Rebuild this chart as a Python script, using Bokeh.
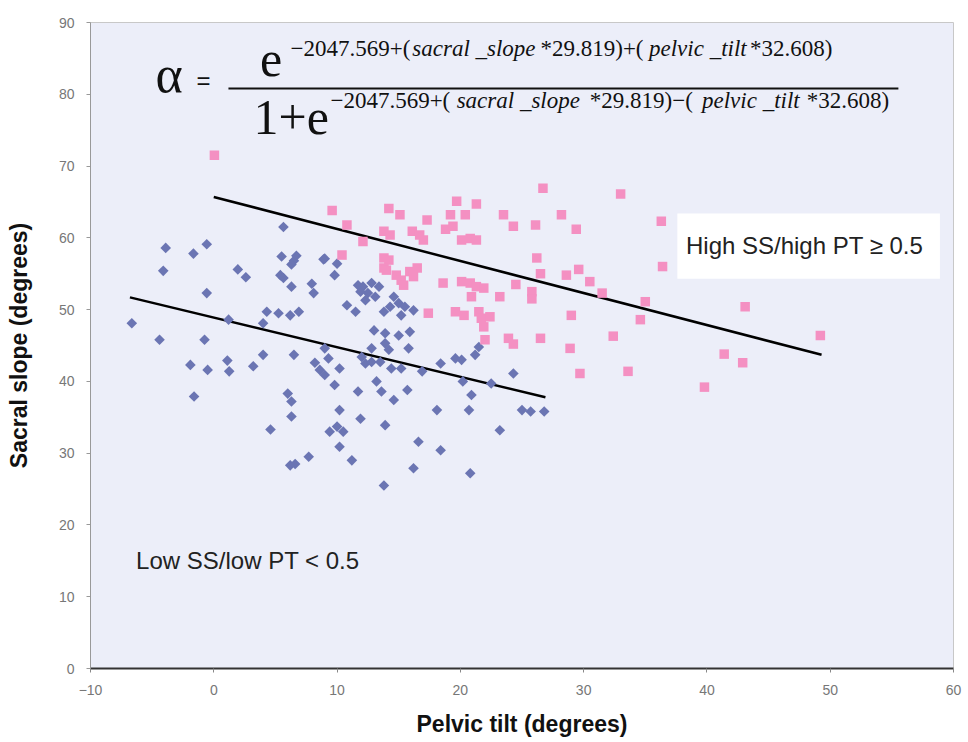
from bokeh.plotting import figure
from bokeh.models import Label, BoxAnnotation, Range1d, FixedTicker
from bokeh.embed import file_html
from bokeh.resources import INLINE

# ---- data ----
blue_pt = [5.65, -3.9, -1.65, -0.57, -4.1, 1.95, 2.6, -0.57, 5.5, 6.5, 6.7, 6.3, 8.9, 5.4, 5.65,
           6.3, 7.95, 8.1, 4.3, 5.25, 6.2, 6.9, 1.2, -6.65, -4.4, -0.75, -1.9, -0.5, 1.1, 1.25,
           3.2, 4.0, 6.5, 8.2, 8.6, 9.0, 9.3, -1.6, 6.0, 6.3, 6.3, 4.6, 7.7, 6.2, 6.6, 9.4, 4.0,
           9.0, 10.0, 9.8, 11.7, 12.1, 12.8, 13.4, 11.9, 12.5, 13.1, 12.3, 10.8, 11.5, 14.6, 15.0,
           14.3, 15.5, 15.2, 13.8, 16.2, 13.0, 13.9, 15.0, 15.9, 13.9, 14.2, 12.8, 15.8, 10.2,
           9.8, 12.3, 12.8, 13.5, 14.4, 15.2, 16.9, 18.4, 19.6, 20.1, 21.2, 21.5, 24.3, 20.2,
           22.5, 13.2, 11.7, 13.6, 15.7, 14.6, 20.9, 10.2, 11.9, 13.9, 18.1, 20.7, 25.0, 25.7,
           26.8, 10.0, 10.5, 10.2, 11.2, 23.2, 16.6, 18.4, 16.2, 20.8, 13.8, 9.0, 12.0]
blue_ss = [61.5, 58.6, 57.8, 59.1, 55.4, 55.6, 54.5, 52.3, 57.4, 56.8, 57.5, 56.3, 57.0, 54.8, 54.4,
           53.2, 53.6, 52.3, 49.7, 49.5, 49.2, 49.7, 48.6, 48.1, 45.8, 45.8, 42.3, 41.6, 42.9, 41.4,
           42.1, 43.7, 43.7, 42.6, 41.6, 40.9, 43.2, 37.9, 38.3, 37.2, 35.1, 33.3, 29.5, 28.3, 28.5, 33.0, 48.1,
           57.1, 56.4, 54.8, 53.4, 53.2, 53.7, 53.2, 52.5, 52.3, 51.8, 51.3, 50.6, 49.7, 51.8, 50.9,
           50.4, 50.4, 49.2, 49.7, 49.9, 47.1, 46.7, 46.4, 46.9, 45.3, 44.4, 44.6, 44.6, 41.8,
           39.5, 42.5, 42.7, 42.7, 41.8, 41.8, 41.4, 42.5, 43.2, 43.0, 43.7, 44.8, 41.1, 40.0,
           39.7, 40.0, 38.6, 38.6, 38.8, 37.4, 38.1, 36.0, 34.8, 33.9, 36.0, 36.0, 36.0, 35.8,
           35.8, 33.7, 33.0, 30.9, 29.0, 33.2, 31.6, 30.4, 27.9, 27.2, 25.5, 44.6, 43.4]

pink_pt = [0.05, 9.6, 10.8, 12.1, 14.2, 15.1, 17.3, 13.8, 14.3, 16.1, 16.7, 17.0, 19.7, 21.3, 19.2,
           20.4, 18.8, 19.4, 20.1, 20.8, 21.3, 23.5, 24.3, 26.1, 26.7, 10.4, 13.8, 14.2, 13.8, 14.0,
           14.8, 15.2, 15.9, 16.5, 16.2, 15.4, 18.6, 20.1, 20.8, 21.3, 21.9, 20.9, 23.2, 24.5, 25.8,
           25.8, 26.2, 26.5, 17.4, 19.6, 20.3, 21.5, 21.7, 22.4, 21.9, 22.0, 23.9, 24.3, 33.0, 28.2,
           29.4, 36.3, 28.6, 29.6, 36.4, 30.5, 31.5, 35.0, 29.0, 34.6, 43.1, 26.5, 32.4, 28.9, 29.7,
           33.6, 41.4, 42.9, 39.8, 49.2]
pink_ss = [71.5, 63.8, 61.8, 59.5, 64.1, 63.2, 62.5, 60.9, 60.4, 60.9, 60.4, 59.7, 65.1, 64.7, 63.2,
           63.2, 61.2, 61.6, 59.7, 59.9, 59.7, 63.2, 61.6, 61.8, 66.9, 57.6, 57.2, 56.9, 55.8, 55.5,
           54.8, 54.1, 55.3, 55.8, 54.6, 53.4, 53.7, 53.9, 53.7, 53.2, 53.0, 51.8, 51.8, 53.5, 52.5,
           51.5, 57.2, 55.0, 49.5, 49.7, 49.2, 49.7, 48.8, 49.0, 47.6, 45.8, 46.0, 45.2, 66.1, 63.2,
           61.2, 62.3, 54.8, 55.6, 56.0, 53.9, 52.3, 51.1, 49.2, 48.6, 50.4, 46.0, 46.3, 44.6, 41.1,
           41.4, 43.8, 42.6, 39.2, 46.4]

high_line_pt = [0.0, 49.3]
high_line_ss = [65.7, 43.7]
low_line_pt = [-6.8, 26.9]
low_line_ss = [51.7, 37.8]

x_ticks = [-10, 0, 10, 20, 30, 40, 50, 60]
y_ticks = [0, 10, 20, 30, 40, 50, 60, 70, 80, 90]

p = figure(width=968, height=742, output_backend="svg", toolbar_location=None,
           x_range=Range1d(-10, 60), y_range=Range1d(0, 90),
           min_border_left=90, min_border_right=15, min_border_top=22, min_border_bottom=74)

p.background_fill_color = "#eceef9"
p.border_fill_color = "white"
p.outline_line_color = "#c8c8c8"
p.grid.visible = False

for ax in (p.xaxis, p.yaxis):
    ax.major_label_text_font = "Liberation Sans"
    ax.major_label_text_font_size = "14px"
    ax.major_label_text_color = "#777777"
    ax.minor_tick_line_color = None
    ax.major_tick_in = 0
    ax.major_tick_out = 4
    ax.axis_label_text_font = "Liberation Sans"
    ax.axis_label_text_font_style = "bold"
    ax.axis_label_text_font_size = "23px"
    ax.axis_label_text_color = "#111111"

p.xaxis.ticker = FixedTicker(ticks=x_ticks)
p.yaxis.ticker = FixedTicker(ticks=y_ticks)
p.xaxis.axis_label = "Pelvic tilt (degrees)"
p.yaxis.axis_label = "Sacral slope (degrees)"
p.xaxis.axis_line_color = "#333333"
p.xaxis.axis_line_width = 2
p.xaxis.major_tick_line_color = "#888888"
p.yaxis.axis_line_color = "#999999"
p.yaxis.major_tick_line_color = "#999999"
p.xaxis.major_label_standoff = 12
p.yaxis.major_label_standoff = 12
p.xaxis.axis_label_standoff = 13
p.yaxis.axis_label_standoff = 24

# white box behind the upper label
p.add_layout(BoxAnnotation(left=37.6, right=58.9, bottom=54.3, top=63.4,
                           fill_color="white", fill_alpha=1.0, line_color=None))

p.line(high_line_pt, high_line_ss, line_color="black", line_width=2.5)
p.line(low_line_pt, low_line_ss, line_color="black", line_width=2.5)

p.scatter(blue_pt, blue_ss, marker="square", angle=0.785, size=7.5,
          fill_color="#6b75b3", line_color=None)
p.scatter(pink_pt, pink_ss, marker="square", size=9.5,
          fill_color="#f490c2", line_color=None)

p.add_layout(Label(x=38.3, y=58.9, text="High SS/high PT \u2265 0.5", text_font="Liberation Sans",
                   text_font_size="24px", text_color="#222222", text_baseline="middle"))
p.add_layout(Label(x=-6.3, y=15.0, text="Low SS/low PT < 0.5", text_font="Liberation Sans",
                   text_font_size="24px", text_color="#222222", text_baseline="middle"))

# ---- formula ----
SERIF = "Liberation Serif"
p.add_layout(Label(x=-4.73, y=82.8, text="\u03b1", text_font=SERIF, text_font_size="52px",
                   text_color="#111111", text_baseline="middle"))
p.add_layout(Label(x=-1.4, y=81.9, text="=", text_font="Liberation Sans", text_font_size="24px",
                   text_color="#111111", text_baseline="middle"))
p.segment(x0=[1.19], y0=[80.8], x1=[55.53], y1=[80.8], line_color="#111111", line_width=2)
p.add_layout(Label(x=3.75, y=84.9, text="e", text_font=SERIF, text_font_size="50px",
                   text_color="#111111", text_baseline="middle"))
p.add_layout(Label(x=3.22, y=76.8, text="1+e", text_font=SERIF, text_font_size="50px",
                   text_color="#111111", text_baseline="middle"))

num_parts = ["\u22122047.569+(", "sacral _slope", "*29.819)+(", "pelvic _tilt", "*32.608)"]
den_parts = ["\u22122047.569+(", "sacral _slope", "*29.819)\u2212(", "pelvic _tilt", "*32.608)"]
styles = ["normal", "italic", "normal", "italic", "normal"]
num_x = [6.22, 16.1, 26.5, 35.3, 43.5]
den_x = [9.46, 19.7, 30.5, 39.6, 48.1]
for t, s, xx in zip(num_parts, styles, num_x):
    p.add_layout(Label(x=xx, y=86.4, text=t, text_font=SERIF, text_font_size="23px",
                       text_font_style=s, text_color="#111111", text_baseline="middle"))
for t, s, xx in zip(den_parts, styles, den_x):
    p.add_layout(Label(x=xx, y=79.1, text=t, text_font=SERIF, text_font_size="23px",
                       text_font_style=s, text_color="#111111", text_baseline="middle"))

open("out.html", "w").write(file_html(p, INLINE))
